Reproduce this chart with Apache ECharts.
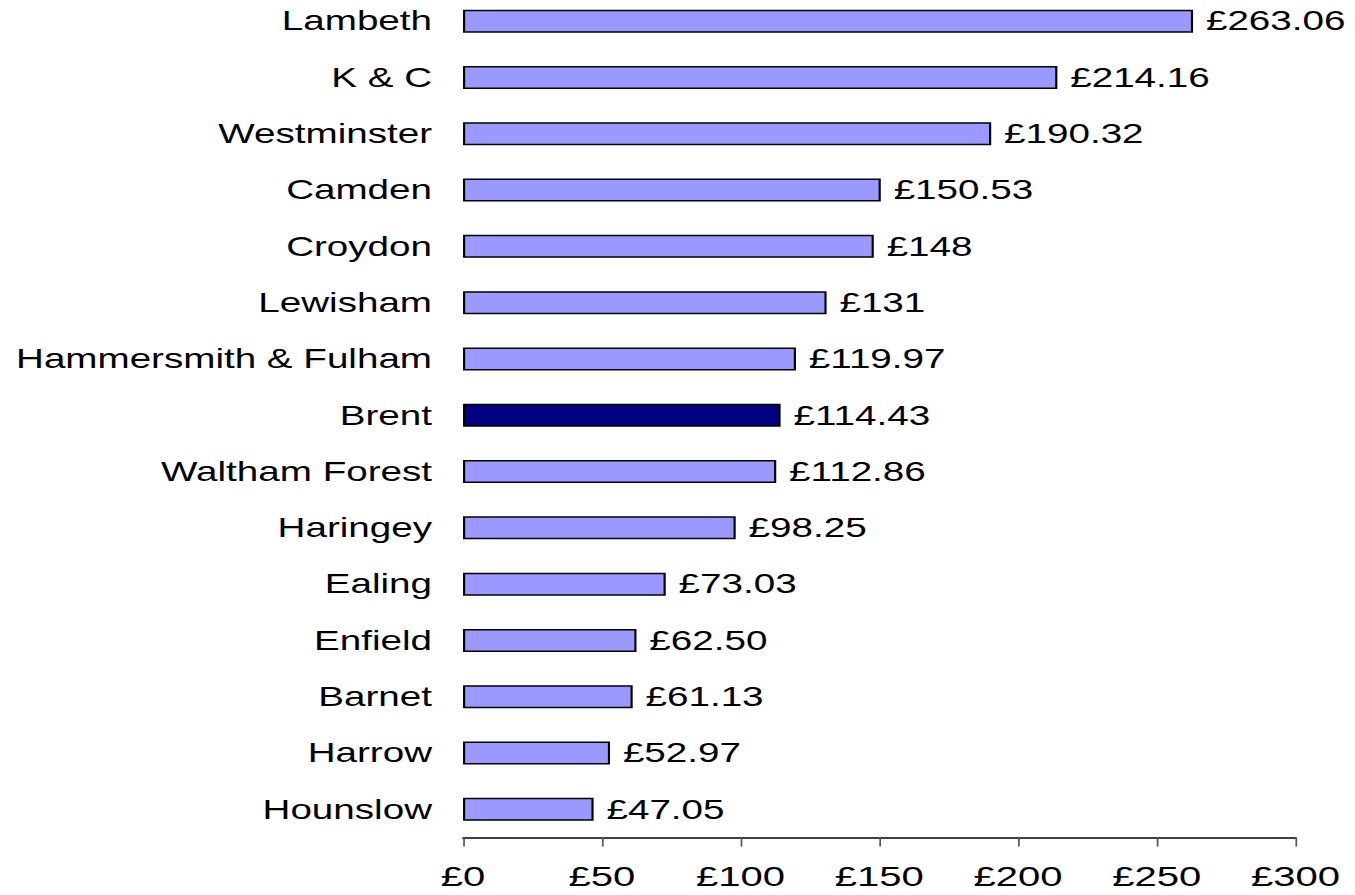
<!DOCTYPE html>
<html>
<head>
<meta charset="utf-8">
<script src="https://cdn.jsdelivr.net/npm/echarts@6/dist/echarts.min.js"></script>
<style>
html,body{margin:0;padding:0;background:#fff;overflow:hidden;}
/* 原图横向拉伸约1.43倍，这里整体缩放；上移7px让第一行贴顶 */
#main{position:absolute;left:0;top:-7px;width:947.5px;height:902px;transform:scaleX(1.43);transform-origin:0 0;}
</style>
</head>
<body>
<div id="main"></div>
<script>
// 行政区（从下到上）
var boroughs = ['Hounslow','Harrow','Barnet','Enfield','Ealing','Haringey','Waltham Forest','Brent',
	'Hammersmith & Fulham','Lewisham','Croydon','Camden','Westminster','K & C','Lambeth'];
var costValues = [47.05, 52.97, 61.13, 62.50, 73.03, 98.25, 112.86, 114.43, 119.97, 131, 148, 150.53, 190.32, 214.16, 263.06];
var costLabels = ['£47.05','£52.97','£61.13','£62.50','£73.03','£98.25','£112.86','£114.43','£119.97','£131','£148','£150.53','£190.32','£214.16','£263.06'];
var highlightName = 'Brent';

var barData = [];
for (var i = 0; i < boroughs.length; i++) {
	barData.push({
		value: costValues[i],
		itemStyle: {color: boroughs[i] == highlightName ? '#000080' : '#9999FF'}
	});
}

var chart = echarts.init(document.getElementById('main'), null, {renderer: 'svg'});
var option = {
	animation: false,
	grid: {left: 323.8, right: 42, top: 0, bottom: 57.5, containLabel: false},
	xAxis: {
		type: 'value',
		min: 0,
		max: 300,
		interval: 50,
		splitLine: {show: false},
		axisLine: {show: true, lineStyle: {color: '#000', width: 1.5}},
		axisTick: {show: true, length: 9, lineStyle: {color: '#555', width: 1.2}},
		axisLabel: {
			color: '#000', fontSize: 28, fontFamily: 'Liberation Sans, Arial', margin: 25,
			formatter: function (v) { return '£' + v; }
		}
	},
	yAxis: {
		type: 'category',
		data: boroughs,
		axisLine: {show: false},
		axisTick: {show: false},
		axisLabel: {color: '#000', fontSize: 27, fontFamily: 'Liberation Sans, Arial', margin: 21.7}
	},
	series: [{
		type: 'bar',
		data: barData,
		barWidth: 23,
		itemStyle: {borderColor: '#000', borderWidth: 1.5},
		label: {
			show: true,
			position: 'right',
			distance: 9,
			color: '#000',
			fontSize: 27,
			fontFamily: 'Liberation Sans, Arial',
			formatter: function (p) { return costLabels[p.dataIndex]; }
		}
	}]
};
chart.setOption(option);
</script>
</body>
</html>
